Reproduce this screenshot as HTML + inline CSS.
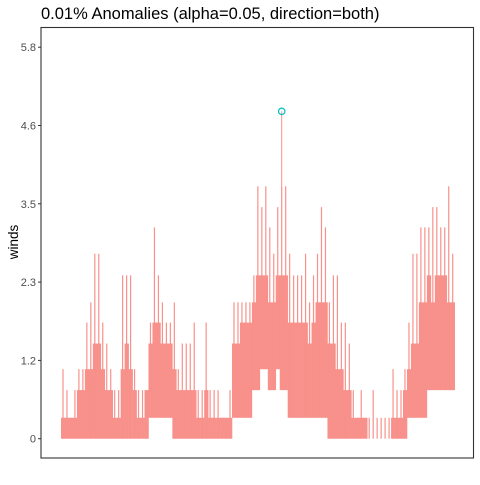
<!DOCTYPE html>
<html><head><meta charset="utf-8"><style>
body{margin:0;background:#fff;}
svg text{font-family:"Liberation Sans",Arial,sans-serif;}
</style></head><body>
<svg width="480" height="480" viewBox="0 0 480 480">
<rect width="480" height="480" fill="#fff"/>
<text x="41" y="19" font-size="16.5" fill="#000">0.01% Anomalies (alpha=0.05, direction=both)</text>
<rect x="41" y="27.5" width="432.5" height="430.5" fill="none" stroke="#333" stroke-width="1.1"/>
<text transform="translate(18,242) rotate(-90)" text-anchor="middle" font-size="13.5" fill="#000">winds</text>
<g id="yaxis"></g>
<g id="series"></g>
<g id="anom"></g>
</svg>
<script>
const tickValues=[0,1.16,2.32,3.48,4.64,5.8];
const tickLabels=["0","1.2","2.3","3.5","4.6","5.8"];
const hiValues=[1.03,0.72,0.31,0.72,1.03,1.03,1.72,2.02,2.74,2.74,1.72,1.41,1.03,0.72,0.72,2.42,2.42,2.42,1.03,0.72,0.72,0.72,1.72,3.13,2.42,2.02,1.72,1.72,2.02,1.03,1.41,1.41,1.41,1.72,0.72,0.72,1.72,0.72,0.72,0.72,0.31,0.31,0.72,2.02,2.02,2.02,2.02,2.02,2.42,3.74,3.43,3.74,3.13,2.74,3.43,3.74,3.74,2.74,2.42,2.42,2.42,2.74,2.02,2.42,2.74,3.43,3.13,2.02,2.42,2.42,1.72,1.72,1.41,0.72,0.31,0.72,0.31,0.31,0.72,0.31,0.31,0.31,0.31,1.03,0.72,0.72,1.03,1.72,2.74,2.74,3.13,3.13,3.13,3.43,3.43,3.13,3.13,3.74,2.74];
const bodyValues=[0.31,0.31,0.31,0.31,0.72,0.72,1.03,1.03,1.41,1.41,1.03,0.72,0.72,0.31,0.31,1.03,1.41,1.03,0.72,0.31,0.31,0.72,1.41,1.72,1.72,1.41,1.41,1.41,1.03,0.72,0.72,0.72,0.72,0.72,0.31,0.31,0.72,0.31,0.31,0.31,0.31,0.31,0.31,1.41,1.41,1.72,1.72,1.72,2.02,2.42,2.42,2.42,2.02,2.02,2.42,2.42,2.42,1.72,1.72,1.72,1.72,1.72,1.41,1.72,2.02,2.02,2.02,1.41,1.41,1.03,1.03,0.72,0.72,0.31,0.31,0.31,0.31,0,0,0,0,0,0,0.31,0.31,0.31,0.72,1.03,1.41,1.41,2.02,2.02,2.42,2.02,2.42,2.42,2.42,2.02,2.02];
const loValues=[0,0,0,0,0,0,0,0,0,0,0,0,0,0,0,0,0,0,0,0,0,0,0.31,0.31,0.31,0.31,0.31,0.31,0,0,0,0,0,0,0,0,0,0,0,0,0,0,0,0.31,0.31,0.31,0.31,0.31,0.72,0.72,1.03,1.03,0.72,0.72,1.03,0.72,0.72,0.31,0.31,0.31,0.31,0.31,0.31,0.31,0.31,0.31,0.31,0,0,0,0,0,0,0,0,0,0,0,0,0,0,0,0,0,0,0,0,0.31,0.31,0.31,0.31,0.31,0.72,0.72,0.72,0.72,0.72,0.72,0.72];
const anomalyIndex=[55];
const anomalyValues=[4.85];

const NS="http://www.w3.org/2000/svg";
const y0=438.7, yPerUnit=67.5, xStart=61, xEnd=454.7;
function yScale(v){return y0-v*yPerUnit;}
const nSeg=hiValues.length;
const segW=(xEnd-xStart)/nSeg;
function xScale(i){return xStart+i*segW;}

const ya=document.getElementById('yaxis');
tickValues.forEach((v,i)=>{
  const y=yScale(v);
  const t=document.createElementNS(NS,'line');
  t.setAttribute('x1',38);t.setAttribute('x2',41);t.setAttribute('y1',y);t.setAttribute('y2',y);
  t.setAttribute('stroke','#333');t.setAttribute('stroke-width','1');
  
  
  ya.appendChild(t);
  const l=document.createElementNS(NS,'text');
  l.setAttribute('x',36);l.setAttribute('y',y+4);l.setAttribute('text-anchor','end');
  l.setAttribute('font-size','11');l.setAttribute('fill','#4d4d4d');
  l.textContent=tickLabels[i];
  
  
  ya.appendChild(l);
});

const sg=document.getElementById('series');
hiValues.forEach((h,i)=>{
  const r=document.createElementNS(NS,'rect');
  const top=Math.max(bodyValues[i],loValues[i]);
  r.setAttribute('x',xScale(i));r.setAttribute('width',segW+0.3);
  r.setAttribute('y',yScale(top));r.setAttribute('height',yScale(loValues[i])-yScale(top));
  r.setAttribute('fill','#F8918B');
  
  
  sg.appendChild(r);
  const s=document.createElementNS(NS,'line');
  const x=xScale(i)+segW/2;
  s.setAttribute('x1',x);s.setAttribute('x2',x);
  s.setAttribute('y1',yScale(h));s.setAttribute('y2',yScale(loValues[i]));
  s.setAttribute('stroke','#F8918B');s.setAttribute('stroke-width','1.2');
  
  
  sg.appendChild(s);
});
anomalyIndex.forEach((k,i)=>{
  const x=xScale(k)+segW/2;
  const ln=document.createElementNS(NS,'line');
  ln.setAttribute('x1',x);ln.setAttribute('x2',x);
  ln.setAttribute('y1',yScale(anomalyValues[i]));ln.setAttribute('y2',yScale(hiValues[k]));
  ln.setAttribute('stroke','#F8918B');ln.setAttribute('stroke-width','1');
  
  
  sg.appendChild(ln);
  const c=document.createElementNS(NS,'circle');
  c.setAttribute('cx',x);c.setAttribute('cy',yScale(anomalyValues[i]));c.setAttribute('r','3.2');
  c.setAttribute('fill','none');c.setAttribute('stroke','#00BFC4');c.setAttribute('stroke-width','1.2');
  
  
  document.getElementById('anom').appendChild(c);
});
</script>
</body></html>
